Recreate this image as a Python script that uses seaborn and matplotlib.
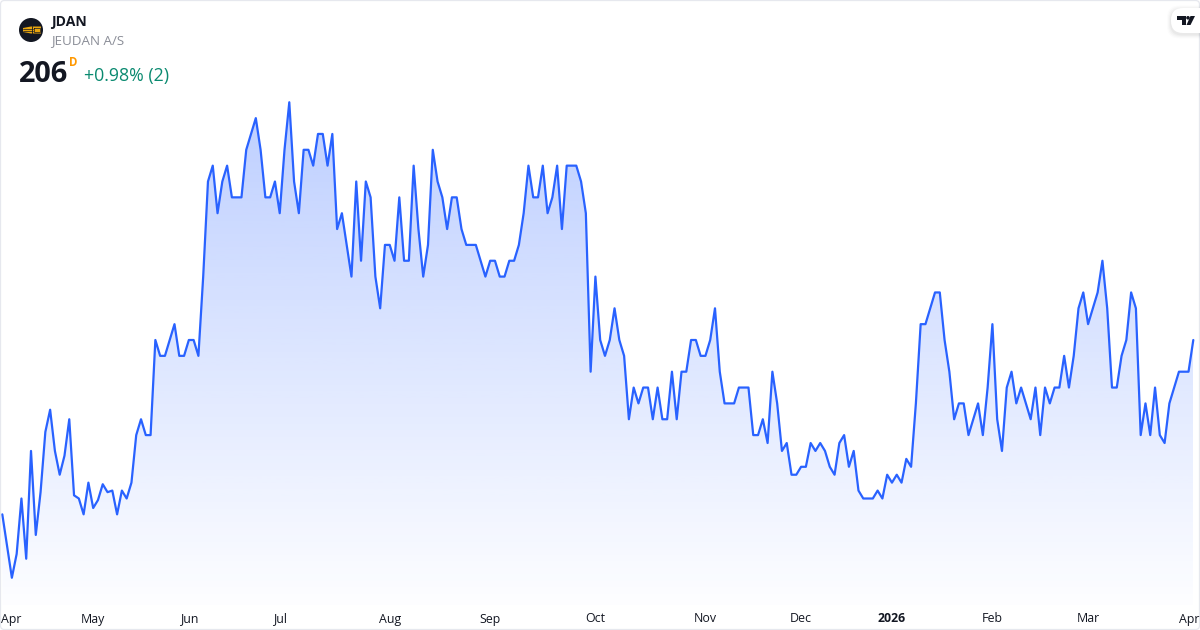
import numpy as np
import pandas as pd
import seaborn as sns
import matplotlib.pyplot as plt
from matplotlib.patches import Circle, FancyBboxPatch, Polygon

# daily closes
closes = [
    195, 193, 191, 192.5, 196, 192.2, 199, 193.7, 196.4, 200.2, 201.6, 199, 197.5, 198.7, 201,
    196.2, 196, 195, 197, 195.4, 195.9, 196.9, 196.4, 196.5, 195, 196.5, 196, 197, 200, 201, 200, 200,
    206, 205, 205, 206, 207, 205, 205, 206, 206, 205, 210,
    216, 217, 214, 216, 217, 215, 215, 215, 218, 219, 220, 218, 215, 215, 216, 214, 218, 221,
    216, 214, 218, 218, 217, 219, 219, 217, 219, 213, 214, 212, 210, 216, 211, 216, 215, 210, 208,
    212, 212, 211, 215, 211, 211, 217, 213, 210, 212, 218, 216, 215, 213, 215, 215, 213, 212, 212, 212,
    211, 210, 211, 211, 210, 210, 211, 211, 212, 214, 217, 215, 215, 217, 214, 215, 217, 213, 217, 217,
    217, 216, 214, 204, 210, 206, 205, 206, 208, 206, 205, 201, 203, 202, 203, 203, 201, 203, 201, 201,
    204, 201, 204, 204, 206, 206, 205, 205, 206, 208, 204, 202, 202, 202, 203, 203, 203, 200, 200, 201,
    199.5, 204, 202, 199, 199.5, 197.5, 197.5, 198, 198, 199.5, 199, 199.5, 199, 198, 197.5, 199.5, 200,
    198, 199, 196.5, 196, 196, 196, 196.5, 196, 197.5, 197, 197.5, 197, 198.5, 198, 202, 207, 207, 208,
    209, 209, 206, 204, 201, 202, 202, 200, 201, 202, 200, 203, 207, 201, 199, 203, 204, 202, 203, 202,
    201, 203, 200, 203, 202, 203, 203, 205, 203, 205, 208, 209, 207, 208, 209, 211, 208, 203, 203, 205,
    206, 209, 208, 200, 202, 200, 203, 200, 199.5, 202, 203, 204, 204, 204, 206,
]
month_labels = ['Apr', 'May', 'Jun', 'Jul', 'Aug', 'Sep', 'Oct', 'Nov', 'Dec', '2026', 'Feb', 'Mar', 'Apr']
month_days = [0, 19, 39, 58, 81, 102, 124, 147, 167, 186, 207, 227, 248]

BLUE = '#2962FF'
sns.set_theme(style='white')
plt.rcParams['font.family'] = ['Open Sans', 'DejaVu Sans']

df = pd.DataFrame({'day': np.arange(len(closes)), 'close': closes})

fig = plt.figure(figsize=(12, 6.3), dpi=100, facecolor='white')
ax = fig.add_axes([0, 0, 1, 1])

# pixel scale of the original chart
step = (1193.3 - 2.3) / (len(closes) - 1)
ax.set_xlim(-2.3 / step, (1200 - 2.3) / step)
ax.set_ylim(206 - 290 / 15.85, 206 + 340 / 15.85)
ax.axis('off')

# area under the line, gradient clipped to it
base = 206 - 265 / 15.85
poly = ax.fill_between(df['day'], df['close'], base, color='none', lw=0)
top = df['close'].max()
grad = np.zeros((256, 1, 4))
grad[..., :3] = (41 / 255, 98 / 255, 1)
grad[:, 0, 3] = np.linspace(0.31, 0, 256)
im = ax.imshow(grad, extent=[0, len(closes) - 1, base - 1, top], aspect='auto', origin='upper',
               interpolation='bilinear', zorder=1)
im.set_clip_path(poly.get_paths()[0], transform=ax.transData)
ax.set_xlim(-2.3 / step, (1200 - 2.3) / step)
ax.set_ylim(206 - 290 / 15.85, 206 + 340 / 15.85)

sns.lineplot(data=df, x='day', y='close', ax=ax, color=BLUE, linewidth=1.6, zorder=3)
ax.axis('off')

# overlay in pixels for header, labels and logos
ov = fig.add_axes([0, 0, 1, 1], facecolor='none')
ov.set_xlim(0, 1200)
ov.set_ylim(630, 0)
ov.axis('off')

ov.add_patch(FancyBboxPatch((0.5, 0.5), 1199, 629, boxstyle='round,pad=0,rounding_size=4',
                            fc='none', ec='#E6E8EE', lw=0.9))

ov.add_patch(Circle((31, 30), 12, fc='#131722', ec='none'))
ov.add_patch(Polygon([(23, 28), (31, 26.5), (41, 26.5), (41, 33.5), (31, 33.5), (23, 32)],
                     fc='#E8A50F', ec='none'))
for yy in (29, 31):
    ov.plot([23, 33], [yy, yy], color='#131722', lw=0.5)
ov.plot([32, 32], [26, 34], color='#131722', lw=0.6)
ov.plot([33.5, 39.5, 39.5, 33.5, 33.5], [28, 28, 32, 32, 28], color='#131722', lw=0.5)

ov.text(51, 22, 'JDAN', fontsize=10.1, fontweight='bold', color='#131722', va='center')
ov.text(51, 41, 'JEUDAN A/S', fontsize=9.6, color='#8A8D97', va='center')
ov.text(19, 74, '206', fontsize=20.8, fontweight='bold', color='#131722', va='center')
ov.text(69, 62.5, 'D', fontsize=8.3, fontweight='bold', color='#FF9800', va='center')
ov.text(84, 76, '+0.98% (2)', fontsize=12.8, color='#0A8A70', va='center')

for lab, d in zip(month_labels, month_days):
    px = 2.3 + d * step
    bold = lab == '2026'
    if d == 0:
        ov.text(1, 619, lab, fontsize=8.9, color='#131722', ha='left', va='center')
    elif d == month_days[-1]:
        ov.text(1199, 619, lab, fontsize=8.9, color='#131722', ha='right', va='center')
    else:
        ov.text(px, 619, lab, fontsize=8.9, color='#131722', ha='center', va='center',
                fontweight='bold' if bold else 'normal')

# TradingView badge
for grow, alpha in ((4, 0.012), (3, 0.018), (2, 0.024), (1, 0.03)):
    ov.add_patch(FancyBboxPatch((1171 - grow, 8 - grow + 1.5), 60, 25 + 2 * grow,
                                boxstyle='round,pad=0,rounding_size=12', fc='black', ec='none', alpha=alpha))
ov.add_patch(FancyBboxPatch((1171, 8), 60, 25, boxstyle='round,pad=0,rounding_size=12', fc='white', ec='none'))
ov.add_patch(Polygon([(1177.3, 16), (1186, 16), (1186, 25), (1182, 25), (1182, 20), (1177.3, 20)], fc='#131722', ec='none'))
ov.add_patch(Polygon([(1190.5, 16), (1195, 16), (1190.5, 25), (1186.5, 25)], fc='#131722', ec='none'))
ov.add_patch(Circle((1188, 17.8), 1.8, fc='#131722', ec='none'))
ov.set_xlim(0, 1200)
ov.set_ylim(630, 0)

fig.savefig('out.png', dpi=100)
